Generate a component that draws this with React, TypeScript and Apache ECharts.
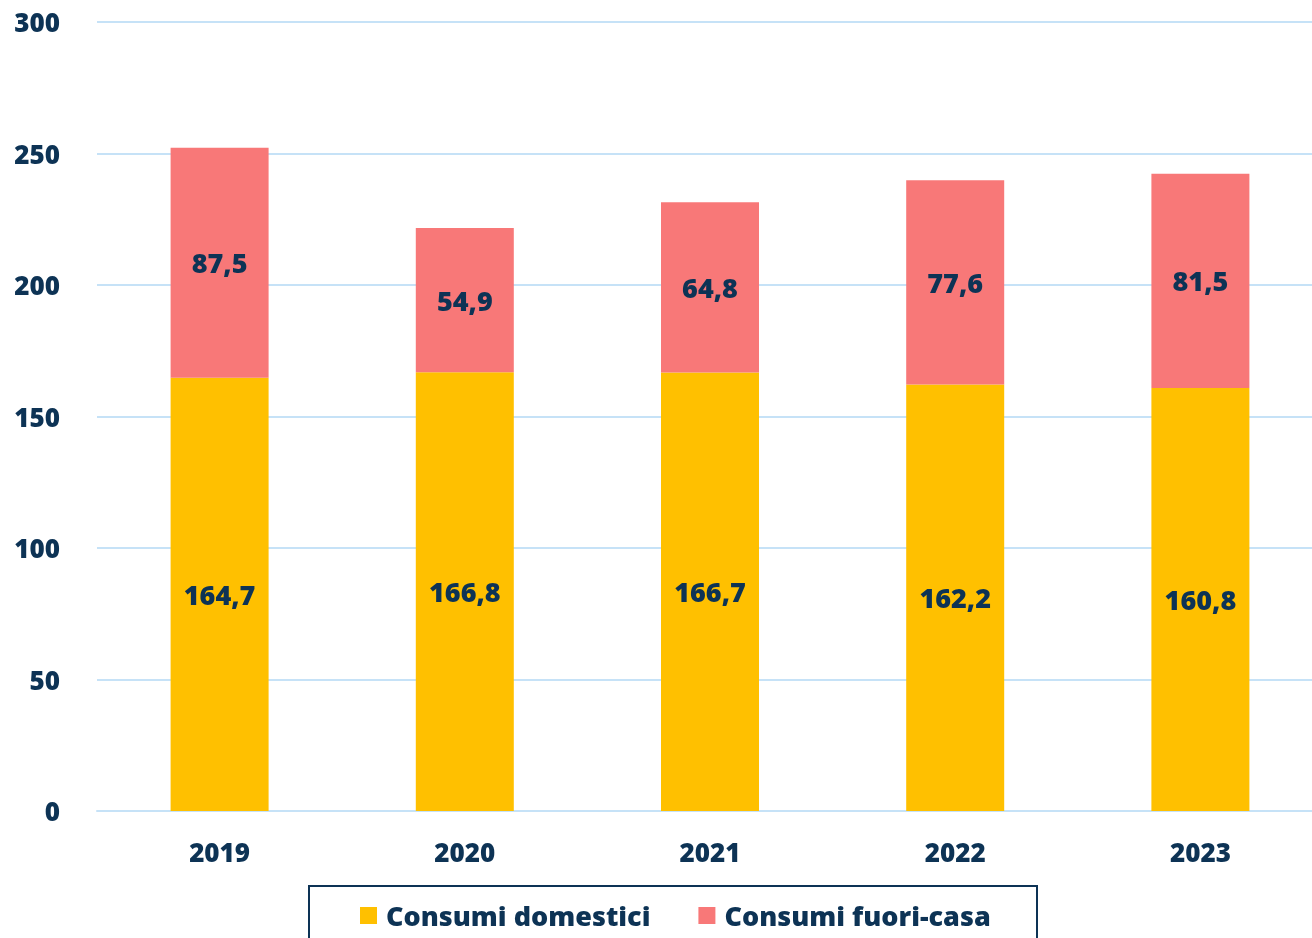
import React, { useEffect, useRef } from "react";
import * as echarts from "echarts";

const categories = ["2019", "2020", "2021", "2022", "2023"];
const domestici = [164.7, 166.8, 166.7, 162.2, 160.8];
const fuoriCasa = [87.5, 54.9, 64.8, 77.6, 81.5];
const seriesNames = ["Consumi domestici", "Consumi fuori-casa"];

const NAVY = "#0D3355";
const FONT = "Open Sans";
const FS = 27;
const FW = 800;

export default function App() {
  const ref = useRef<HTMLDivElement>(null);
  useEffect(() => {
    if (!ref.current) return;
    const chart = echarts.init(ref.current, null, { renderer: "svg" });
    const fmt = (p: any) => String(p.value).replace(".", ",");
    const label = {
      show: true,
      position: "inside",
      color: NAVY,
      fontFamily: FONT,
      fontWeight: FW,
      fontSize: FS,
      formatter: fmt,
    };
    chart.setOption({
      animation: false,
      grid: {
        left: 97,
        width: 1226,
        top: 22,
        bottom: 127,
        outerBoundsMode: "none",
        containLabel: false,
      },
      legend: {
        top: 897,
        left: 355,
        itemWidth: 17,
        itemHeight: 17,
        itemGap: 48,
        icon: "rect",
        textStyle: {
          color: NAVY,
          fontFamily: FONT,
          fontWeight: FW,
          fontSize: FS,
          padding: [0, 0, 0, 4],
        },
        data: seriesNames,
      },
      graphic: [
        {
          type: "rect",
          shape: { x: 309, y: 886, width: 728, height: 80 },
          style: { fill: "none", stroke: NAVY, lineWidth: 2 },
        },
      ],
      xAxis: {
        type: "category",
        data: categories,
        axisLine: { show: true, lineStyle: { color: "#C6E2F7", width: 2 } },
        axisTick: { show: false },
        axisLabel: {
          color: NAVY,
          fontFamily: FONT,
          fontWeight: FW,
          fontSize: FS - 1,
          margin: 28,
        },
      },
      yAxis: {
        type: "value",
        min: 0,
        max: 300,
        interval: 50,
        axisLine: { show: false },
        axisTick: { show: false },
        splitLine: { lineStyle: { color: "#C6E2F7", width: 2 } },
        axisLabel: {
          color: NAVY,
          fontFamily: FONT,
          fontWeight: FW,
          fontSize: FS - 1,
          margin: 37,
        },
      },
      series: [
        {
          name: seriesNames[0],
          type: "bar",
          stack: "total",
          barWidth: 98,
          data: domestici,
          itemStyle: { color: "#FFC000" },
          label,
        },
        {
          name: seriesNames[1],
          type: "bar",
          stack: "total",
          barWidth: 98,
          data: fuoriCasa,
          itemStyle: { color: "#F87878" },
          label,
        },
      ],
    });
    return () => chart.dispose();
  }, []);
  return (
    <div
      ref={ref}
      style={{ position: "fixed", left: 0, top: 0, width: 1312, height: 938 }}
    />
  );
}
